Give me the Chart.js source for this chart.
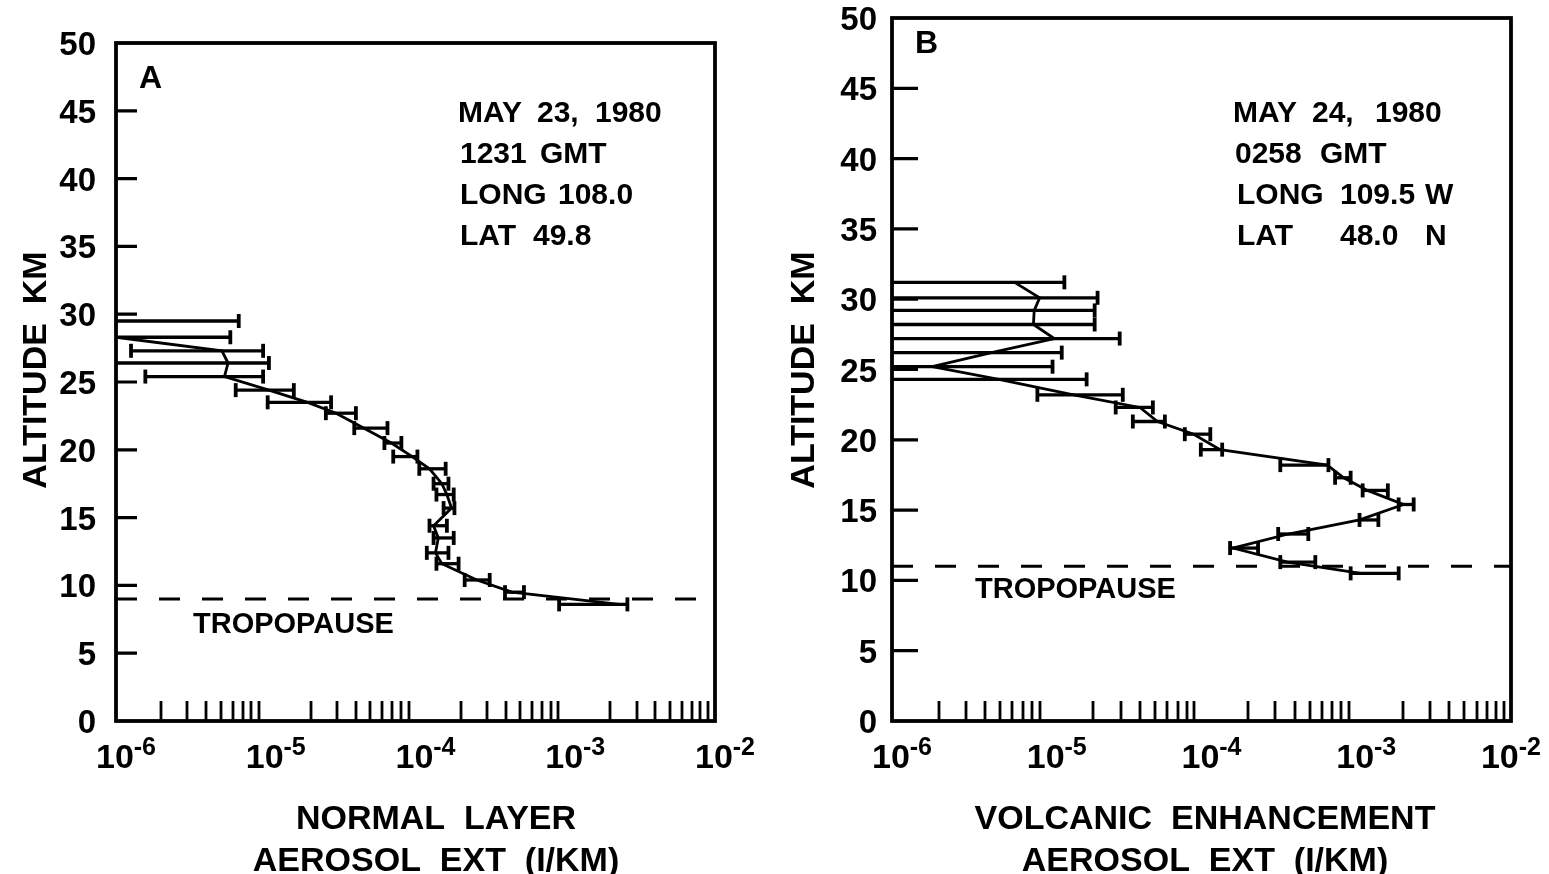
<!DOCTYPE html>
<html>
<head>
<meta charset="utf-8">
<script src="https://cdn.jsdelivr.net/npm/chart.js@4.4.0/dist/chart.umd.min.js"></script>
<style>
html, body { margin: 0; padding: 0; background: #fff; }
#wrap { position: relative; width: 1549px; height: 874px; }
canvas { position: absolute; left: 0; top: 0; }
</style>
</head>
<body>
<div id="wrap">
  <canvas id="chartA" width="1549" height="874"></canvas>
  <canvas id="chartB" width="1549" height="874"></canvas>
</div>
<script>
const W = 1549, H = 874;
const FONT = '"Liberation Sans", Arial, sans-serif';

// axis ticks
const altTicks = [0, 5, 10, 15, 20, 25, 30, 35, 40, 45, 50];
const decadeExp = [-6, -5, -4, -3, -2];

// panel A: normal layer, May 23 1980  (altitude km, extinction 1/km, error bar low/high)
const altA = [29.5, 28.3, 27.3, 26.4, 25.4, 24.4, 23.5, 22.7, 21.6, 20.5, 19.5, 18.6, 17.5, 16.7, 15.7, 14.4, 13.5, 12.4, 11.6, 10.4, 9.5, 8.6];
const extA = [5e-7, 1.0e-6, 5.1e-6, 5.6e-6, 5.3e-6, 1.05e-5, 1.9e-5, 2.95e-5, 4.5e-5, 6.9e-5, 9.5e-5, 1.24e-4, 1.5e-4, 1.62e-4, 1.74e-4, 1.32e-4, 1.42e-4, 1.36e-4, 1.5e-4, 2.57e-4, 4.4e-4, 2.3e-3];
const loA = [1e-7, 1e-7, 1.26e-6, 1e-7, 1.57e-6, 6.3e-6, 1.03e-5, 2.52e-5, 3.9e-5, 6.2e-5, 7.1e-5, 1.06e-4, 1.32e-4, 1.38e-4, 1.54e-4, 1.24e-4, 1.32e-4, 1.19e-4, 1.38e-4, 2.13e-4, 3.96e-4, 9.1e-4];
const hiA = [6.6e-6, 5.8e-6, 9.6e-6, 1.05e-5, 9.6e-6, 1.54e-5, 2.73e-5, 4.0e-5, 6.5e-5, 8.05e-5, 1.03e-4, 1.59e-4, 1.66e-4, 1.8e-4, 1.82e-4, 1.62e-4, 1.8e-4, 1.66e-4, 1.94e-4, 3.13e-4, 5.3e-4, 2.6e-3];
const tropoA = 9.0;

// panel B: volcanic enhancement, May 24 1980
const altB = [31.2, 30.1, 29.2, 28.2, 27.2, 26.2, 25.2, 24.3, 23.2, 22.3, 21.3, 20.4, 19.3, 18.2, 17.3, 16.4, 15.4, 14.3, 13.3, 12.3, 11.3, 10.5];
const extB = [6.2e-6, 9.0e-6, 8.3e-6, 8.2e-6, 1.12e-5, 4.4e-6, 1.82e-6, 4.9e-6, 1.49e-5, 4.0e-5, 5.2e-5, 8.9e-5, 1.32e-4, 6.5e-4, 8.3e-4, 1.18e-3, 2.02e-3, 1.05e-3, 3.64e-4, 1.6e-4, 3.6e-4, 1.07e-3];
const loB = [1e-7, 1e-7, 1e-7, 1e-7, 1e-7, 1e-7, 1e-7, 1e-7, 8.7e-6, 2.79e-5, 3.6e-5, 7.8e-5, 9.9e-5, 3.23e-4, 7.3e-4, 1.1e-3, 1.88e-3, 1.05e-3, 3.13e-4, 1.53e-4, 3.23e-4, 9.2e-4];
const hiB = [1.3e-5, 2.13e-5, 2.04e-5, 2.04e-5, 2.96e-5, 1.25e-5, 1.09e-5, 1.81e-5, 3.1e-5, 4.85e-5, 5.8e-5, 1.14e-4, 1.36e-4, 6.61e-4, 9.2e-4, 1.6e-3, 2.35e-3, 1.39e-3, 4.9e-4, 2.32e-4, 5.44e-4, 1.88e-3];
const tropoB = 11.0;

function buildDatasets(alt, ext, lo, hi, tropo) {
    const ds = [];
    ds.push({
        data: alt.map((a, i) => ({x: ext[i], y: a})),
        showLine: true, borderColor: '#000', borderWidth: 2.8, pointRadius: 0, clip: 0
    });
    alt.forEach((a, i) => {
        ds.push({
            data: [{x: lo[i], y: a}, {x: hi[i], y: a}],
            showLine: true, borderColor: '#000', borderWidth: 3.3,
            pointStyle: 'line', rotation: 90, pointRadius: 7,
            pointBorderWidth: 3.8, pointBorderColor: '#000', clip: 0
        });
    });
    ds.push({
        data: [{x: 1e-6, y: tropo}, {x: 1e-2, y: tropo}],
        showLine: true, borderColor: '#000', borderWidth: 3, borderDash: [21, 22],
        pointRadius: 0, clip: 0
    });
    return ds;
}

function txt(ctx, s, x, y, size, align) {
    ctx.font = 'bold ' + size + 'px ' + FONT;
    ctx.textAlign = align || 'left';
    ctx.textBaseline = 'alphabetic';
    ctx.fillText(s, x, y);
}

function decoPlugin(cfg) {
    return {
        id: 'deco',
        afterDraw(chart) {
            const ctx = chart.ctx, a = chart.chartArea;
            const xs = chart.scales.x, ys = chart.scales.y;
            ctx.save();
            ctx.strokeStyle = '#000';
            ctx.fillStyle = '#000';
            ctx.lineWidth = 3.8;
            ctx.strokeRect(a.left, a.top, a.right - a.left, a.bottom - a.top);

            // altitude ticks pointing in
            ctx.beginPath();
            altTicks.forEach(v => {
                if (v <= 0 || v >= 50) return;
                const y = ys.getPixelForValue(v);
                ctx.moveTo(a.left, y);
                ctx.lineTo(a.left + cfg.yTickLen, y);
            });
            ctx.lineWidth = 3.2;
            ctx.stroke();

            // log minor ticks on the bottom axis
            ctx.beginPath();
            for (let e = -6; e < -2; e++) {
                for (let k = 2; k <= 9; k++) {
                    const x = Math.round(xs.getPixelForValue(k * Math.pow(10, e)));
                    ctx.moveTo(x, a.bottom);
                    ctx.lineTo(x, a.bottom - 20);
                }
            }
            ctx.lineWidth = 2.8;
            ctx.stroke();

            // altitude labels
            altTicks.forEach(v => {
                txt(ctx, String(v), cfg.yLabRight, ys.getPixelForValue(v) + 12, 33, 'right');
            });

            // decade labels 10^n
            decadeExp.forEach(e => {
                const x = xs.getPixelForValue(Math.pow(10, e));
                ctx.font = 'bold 34px ' + FONT;
                const w1 = ctx.measureText('10').width;
                ctx.font = 'bold 25px ' + FONT;
                const sup = String(e);
                const w2 = ctx.measureText(sup).width;
                const left = Math.min(x + 10 - (w1 + w2) / 2, W - 8 - w1 - w2);
                txt(ctx, '10', left, 768, 34, 'left');
                txt(ctx, sup, left + w1, 755, 25, 'left');
            });

            // axis titles
            ctx.save();
            ctx.translate(cfg.yTitleX, 370);
            ctx.rotate(-Math.PI / 2);
            txt(ctx, 'ALTITUDE  KM', 0, 0, 34, 'center');
            ctx.restore();
            txt(ctx, cfg.xTitle1, cfg.xTitleX, 829, 34, 'center');
            txt(ctx, cfg.xTitle2, cfg.xTitleX, 871, 34, 'center');

            // panel letter, info block, tropopause label
            txt(ctx, cfg.letter[0], cfg.letter[1], cfg.letter[2], 32, 'left');
            cfg.info.forEach(p => txt(ctx, p[0], p[1], p[2], 30, 'left'));
            txt(ctx, 'TROPOPAUSE', cfg.tropoLab[0], cfg.tropoLab[1], 29, 'left');
            ctx.restore();
        }
    };
}

function makePanel(id, area, datasets, cfg) {
    return new Chart(document.getElementById(id), {
        type: 'scatter',
        data: {datasets: datasets},
        options: {
            responsive: false,
            animation: false,
            events: [],
            layout: {padding: {left: area.l, top: area.t, right: W - area.r, bottom: H - area.b}},
            plugins: {legend: {display: false}, tooltip: {enabled: false}},
            scales: {
                x: {type: 'logarithmic', min: 1e-6, max: 1e-2, display: false},
                y: {type: 'linear', min: 0, max: 50, display: false}
            }
        },
        plugins: [decoPlugin(cfg)]
    });
}

makePanel('chartA', {l: 116, t: 43, r: 715, b: 721}, buildDatasets(altA, extA, loA, hiA, tropoA), {
    yTickLen: 21, yLabRight: 96, yTitleX: 46,
    xTitle1: 'NORMAL  LAYER', xTitle2: 'AEROSOL  EXT  (I/KM)', xTitleX: 436,
    letter: ['A', 139, 88],
    info: [['MAY', 458, 122], ['23,', 537, 122], ['1980', 595, 122],
           ['1231', 460, 163], ['GMT', 540, 163],
           ['LONG', 460, 204], ['108.0', 558, 204],
           ['LAT', 460, 245], ['49.8', 533, 245]],
    tropoLab: [193, 633]
});

makePanel('chartB', {l: 892, t: 18, r: 1511, b: 721}, buildDatasets(altB, extB, loB, hiB, tropoB), {
    yTickLen: 26, yLabRight: 877, yTitleX: 814,
    xTitle1: 'VOLCANIC  ENHANCEMENT', xTitle2: 'AEROSOL  EXT  (I/KM)', xTitleX: 1205,
    letter: ['B', 915, 53],
    info: [['MAY', 1233, 122], ['24,', 1312, 122], ['1980', 1375, 122],
           ['0258', 1235, 163], ['GMT', 1320, 163],
           ['LONG', 1237, 204], ['109.5', 1340, 204], ['W', 1425, 204],
           ['LAT', 1237, 245], ['48.0', 1340, 245], ['N', 1425, 245]],
    tropoLab: [975, 598]
});
</script>
</body>
</html>
